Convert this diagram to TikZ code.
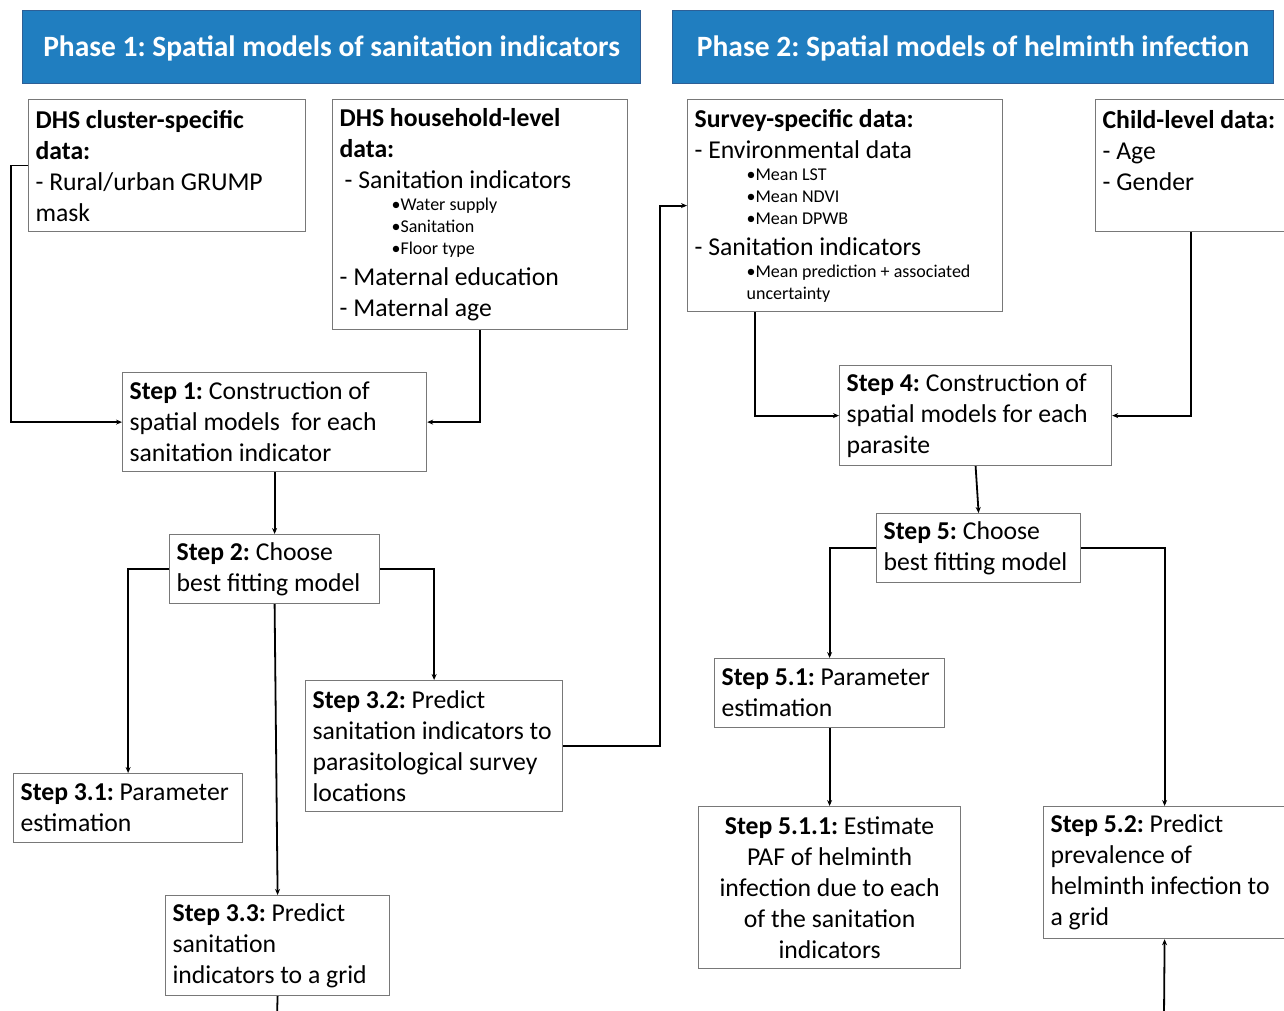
\documentclass[tikz,border=0pt]{standalone}
\usepackage{fontspec}
\setmainfont{Carlito}
\usetikzlibrary{arrows.meta}
\definecolor{hdrblue}{RGB}{32,126,192}
\definecolor{hdrborder}{RGB}{45,95,150}
\definecolor{boxgray}{RGB}{120,120,120}
\newcommand\Hb[1]{{\fontsize{25.7}{31}\selectfont\bfseries #1\par}}
\newcommand\Hn[1]{{\fontsize{25.7}{31}\selectfont #1\par}}
\newcommand\Hs[1]{{\fontsize{18}{22}\selectfont\hspace*{52pt}#1\par}}
\begin{document}
\frenchspacing
\begin{tikzpicture}[x=1pt,y=-1pt,
 hdr/.style={draw=hdrborder, line width=1.2pt, fill=hdrblue, text=white, font=\frenchspacing\fontsize{29.5}{32}\selectfont\bfseries, anchor=north west, inner sep=0pt},
 box/.style={draw=boxgray, line width=1.2pt, fill=white, anchor=north west, align=flush left, inner xsep=7pt, inner ysep=0pt, font=\frenchspacing\fontsize{25.7}{31}\selectfont},
 conn/.style={line width=1.8pt, -{Stealth[length=6pt,width=5pt]}},
 plain/.style={line width=1.8pt}
]
\useasboundingbox[fill=white] (0,0) rectangle (1284,1011);

% headers
\node[hdr, minimum width=618pt, minimum height=73pt, text depth=2pt] (p1) at (22,10) {Phase 1: Spatial models of sanitation indicators};
\node[hdr, minimum width=601pt, minimum height=73pt, text depth=2pt] (p2) at (672,10) {Phase 2: Spatial models of helminth infection};

% data boxes
\node[box, text width=263pt, minimum height=132pt] (dc) at (28,99)
 {\Hb{DHS cluster-specific}\Hb{data:}\Hn{- Rural/urban GRUMP}\Hn{mask}};
\node[box, text width=281pt, minimum height=230pt] (dh) at (332,99)
 {\Hb{DHS household-level}\Hb{data:}\Hn{\hspace*{5pt}- Sanitation indicators}\Hs{•Water supply}\Hs{•Sanitation}\Hs{•Floor type}\Hn{- Maternal education}\Hn{- Maternal age}};
\node[box, text width=301pt, minimum height=212pt] (sv) at (687,99)
 {\Hb{Survey-specific data:}\Hn{- Environmental data}\Hs{•Mean LST}\Hs{•Mean NDVI}\Hs{•Mean DPWB}\Hn{- Sanitation indicators}\Hs{•Mean prediction + associated}\Hs{uncertainty}};
\node[box, text width=176pt, minimum height=132pt] (cl) at (1095,99)
 {\Hb{Child-level data:}\Hn{- Age}\Hn{- Gender}\Hn{\mbox{}}};

% step boxes
\node[box, text width=290pt, minimum height=99pt] (s1) at (122,372)
 {\textbf{Step 1:} Construction of\\spatial models\ \ for each\\sanitation indicator};
\node[box, text width=196pt, minimum height=69pt] (s2) at (169,534)
 {\textbf{Step 2:} Choose\\best fitting model};
\node[box, text width=243pt, minimum height=131pt] (s32) at (305,680)
 {\textbf{Step 3.2:} Predict\\sanitation indicators to\\parasitological survey\\locations};
\node[box, text width=215pt, minimum height=69pt] (s31) at (13,773)
 {\textbf{Step 3.1:} Parameter\\estimation};
\node[box, text width=210pt, minimum height=100pt] (s33) at (165,895)
 {\textbf{Step 3.3:} Predict\\sanitation\\indicators to a grid};
\node[box, text width=258pt, minimum height=100pt] (s4) at (839,365)
 {\textbf{Step 4:} Construction of\\spatial models for each\\parasite};
\node[box, text width=190pt, minimum height=69pt] (s5) at (876,513)
 {\textbf{Step 5:} Choose\\best fitting model};
\node[box, text width=216pt, minimum height=69pt] (s51) at (714,658)
 {\textbf{Step 5.1:} Parameter\\estimation};
\node[box, text width=248pt, minimum height=162pt, align=flush center] (s511) at (698,806)
 {\textbf{Step 5.1.1:} Estimate\\PAF of helminth\\infection due to each\\of the sanitation\\indicators};
\node[box, text width=228pt, minimum height=132pt] (s52) at (1043,806)
 {\textbf{Step 5.2:} Predict\\prevalence of\\helminth infection to\\a grid};

\coordinate (e1) at (277,1016);
\coordinate (e2) at (1164,1016);

% connectors
\draw[conn] (dc.west) -- ++(-17,0) |- (s1.west);
\draw[conn] (dh.south) |- (s1.east);
\draw[conn] (s1.south) -- (s2.north);
\draw[conn] (s2.west) -| (s31.north);
\draw[conn] (s2.east) -| (s32.north);
\draw[conn] (s2.south) -- (s33.north);
\draw[plain] (s33.south) -- (e1);
\draw[conn] (s32.east) -- ++(97,0) |- (sv.west);
\draw[conn] ([xshift=68pt]sv.south west) |- (s4.west);
\draw[conn] (cl.south) |- (s4.east);
\draw[conn] (s4.south) -- (s5.north);
\draw[conn] (s5.west) -| (s51.north);
\draw[conn] (s5.east) -| (s52.north);
\draw[conn] (s51.south) -- (s511.north);
\draw[conn] (e2) -- (s52.south);
\end{tikzpicture}
\end{document}
